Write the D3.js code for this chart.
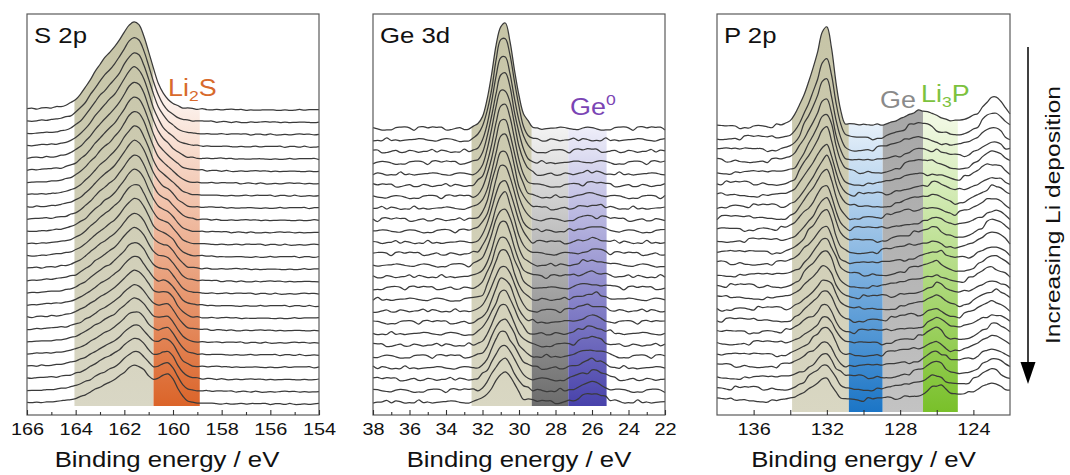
<!DOCTYPE html>
<html>
<head>
<meta charset="utf-8">
<script src="https://cdn.jsdelivr.net/npm/d3@7/dist/d3.min.js"></script>
<style>
  body { margin: 0; background: #fff; }
  text { font-family: "Liberation Sans", Arial, sans-serif; }
</style>
</head>
<body>
<svg id="chart" width="1070" height="475"></svg>
<script>
// ---- data (intensities in arbitrary units) ----
const nSpectra = 25;

// S 2p
const s2pRange = [166, 154];
const s2pTicks = [166, 164, 162, 160, 158, 156, 154];
const s2pMinorTicks = [165, 163, 161, 159, 157, 155];
const s2pBands = [[164.05, 160.8], [160.8, 158.9]];
const s2pPeaks = [
  { center: 161.45, sigma: 0.55 },  // S 2p3/2
  { center: 162.65, sigma: 0.7 },   // S 2p1/2
  { center: 160.2, sigma: 0.35 },   // Li2S
  { center: 162.5, sigma: 2.0 }     // inelastic background
];
const s2pMain = [72, 70, 68, 66, 64, 62, 60, 58, 56, 54, 52, 50, 48, 46, 44, 42, 40, 39, 37, 36, 35, 34, 33, 32, 31];
const s2pShoulder = [45, 40, 37, 35, 33, 31, 30, 28, 27, 26, 25, 24, 23, 22, 21, 20, 19, 18, 17, 17, 16, 15, 15, 14, 13];
const s2pLi2S = [2, 4, 6, 7, 8, 9, 10, 11, 12, 13, 14, 15, 16, 17, 18, 18, 19, 20, 21, 21, 22, 23, 23, 24, 25];
const s2pBackground = [5, 5, 5, 5, 5, 5, 5, 5, 5, 5, 5, 5, 5, 5, 5, 5, 5, 5, 5, 5, 5, 5, 5, 5, 5];
const s2pRipple = [0.3, 0.1, 0.5, 0.2, -0.4, -0.5, -0.1, 0.6, 0.4, -0.2, -0.3, 0.2, 0.5, 0.1, -0.6,
  -0.4, 0.4, 0.2, -0.3, -0.5, 0.2, 0.3, 0.1, 0.4, 0.6, -0.1, -0.4, -0.2, 0.3, -0.3];

// Ge 3d
const ge3dRange = [38, 22];
const ge3dTicks = [38, 36, 34, 32, 30, 28, 26, 24, 22];
const ge3dMinorTicks = [37, 35, 33, 31, 29, 27, 25, 23];
const ge3dBands = [[32.6, 29.3], [29.3, 27.3], [27.3, 25.2]];
const ge3dPeaks = [
  { center: 30.85, sigma: 0.56 },   // Ge 3d (sulfide)
  { center: 26.0, sigma: 0.6 }      // Ge0
];
const ge3dMain = [106, 102, 96, 91, 86, 82, 78, 74, 70, 67, 64, 61, 58, 55, 52, 49, 46, 44, 42, 40, 38, 36, 34, 32, 30];
const ge3dGe0 = [0, 0, 1, 1, 2, 2, 3, 3, 3, 4, 4, 4, 5, 5, 5, 6, 6, 6, 7, 7, 7, 8, 8, 8, 9];
const ge3dRipple = [0.8, 1.1, 1.4, 0.2, -1.2, -0.4, 0.3, 1.8, 0.4, -1.0, -1.8, -1.1, 0.6, 1.2, 0.9, -1.4,
  -0.6, 1.6, 0.9, 0.2, -1.5, -0.9, 1.1, -0.3, -1.1, 0.7, 2.0, 1.2, -0.9, -0.2, 1.3, -0.7,
  -1.6, -1.2, 0.1, 1.5, 0.0, -1.3, 0.4, 1.7, 0.6, -1.0, -0.1, 1.2, -0.8, -1.9, -0.3, 0.8];

// P 2p
const p2pRange = [138, 122];
const p2pTicks = [136, 132, 128, 124];
const p2pMinorTicks = [134, 130, 126];
const p2pBands = [[133.9, 130.8], [130.8, 128.95], [128.95, 126.75], [126.75, 124.85]];
const p2pPeaks = [
  { center: 131.98, sigma: 0.4 },   // P 2p3/2
  { center: 132.8, sigma: 0.55 },   // P 2p1/2
  { center: 127.0, sigma: 0.9 },    // Ge 3p
  { center: 126.0, sigma: 0.4 },    // Li3P
  { center: 122.9, sigma: 0.6 },    // feature at low BE
  { center: 123.0, sigma: 1.5 }     // background
];
const p2pMain = [86, 66, 58, 53, 49, 46, 43, 41, 39, 37, 35, 33, 31, 30, 28, 27, 25, 24, 23, 22, 21, 20, 19, 18, 18];
const p2pShoulder = [45, 36, 32, 30, 28, 26, 25, 24, 23, 22, 21, 20, 19, 18, 17, 16, 15, 14, 13, 13, 12, 12, 11, 11, 10];
const p2pGe = [16, 13, 12, 11, 10, 9, 9, 8, 8, 7, 7, 7, 6, 6, 6, 6, 5, 5, 5, 5, 5, 5, 5, 5, 5];
const p2pLi3P = [0, 0, 1, 2, 3, 4, 5, 5, 6, 6, 7, 7, 8, 8, 8, 9, 9, 9, 10, 10, 10, 11, 11, 11, 12];
const p2pLow = [20, 15, 13, 12, 12, 12, 11, 11, 11, 11, 11, 11, 10, 10, 10, 10, 10, 10, 10, 10, 10, 10, 10, 10, 10];
const p2pBackground = [9, 8, 8, 8, 8, 8, 8, 8, 8, 8, 8, 8, 8, 8, 8, 8, 8, 8, 8, 8, 8, 8, 8, 8, 8];
const p2pRipple = [1.2, 0.5, -1.8, -0.4, 2.1, 0.9, -0.9, -2.2, -1.3, 1.5, 0.6, -1.3, 0.2, 2.4, 1.0, 0.7,
  -1.9, -0.6, 1.1, 1.8, 0.4, -1.5, 0.5, 2.0, -0.2, -2.3, -1.0, 0.8, 1.6, 0.1, -1.2, -0.5,
  1.3, 2.2, 0.3, -1.6, -2.0, 0.7, 1.4, -0.8, 0.4, 1.9, 1.1, -1.4, -0.9, 1.0, 2.3, 0.2,
  -1.1, -1.7, 0.6, 1.5];

// ---- layout ----
const svg = d3.select('#chart');
const defs = svg.append('defs');
const frameTop = 14;
const frameBottom = 415;
const stretch = 1.17; // the figure's lettering is a little wide

const panels = [
  {
    id: 's2p', label: 'S 2p', x0: 27, x1: 319, range: s2pRange, stepE: 0.2,
    ticks: s2pTicks, minor: s2pMinorTicks, majorSize: 5, minorSize: 3,
    peaks: s2pPeaks, amps: [s2pMain, s2pShoulder, s2pLi2S, s2pBackground],
    ripple: s2pRipple, rippleStride: 7,
    base: 404, spacing: 12.25, bandBottom: 406, bands: s2pBands,
    bandColors: [['#c6c4a6', '#d9d7c5'], ['#fcf0ea', '#db6429']]
  },
  {
    id: 'ge3d', label: 'Ge 3d', x0: 373, x1: 665, range: ge3dRange, stepE: 0.25,
    ticks: ge3dTicks, minor: ge3dMinorTicks, majorSize: 5, minorSize: 3,
    peaks: ge3dPeaks, amps: [ge3dMain, ge3dGe0],
    ripple: ge3dRipple, rippleStride: 5,
    base: 402, spacing: 11.4, bandBottom: 406, bands: ge3dBands,
    bandColors: [['#c6c4a6', '#d9d7c3'], ['#f4f4f4', '#6c6c6c'], ['#f0f0fa', '#4842ab']]
  },
  {
    id: 'p2p', label: 'P 2p', x0: 717, x1: 1010, range: p2pRange, stepE: 0.25,
    ticks: p2pTicks, minor: p2pMinorTicks, majorSize: 5, minorSize: 5,
    peaks: p2pPeaks, amps: [p2pMain, p2pShoulder, p2pGe, p2pLi3P, p2pLow, p2pBackground],
    ripple: p2pRipple, rippleStride: 5,
    base: 400, spacing: 11.4, bandBottom: 412, bands: p2pBands,
    bandColors: [['#c6c4a6', '#d9d7c3'], ['#e8f1fa', '#1b75c6'], ['#a7a7a7', '#c3c3c3'], ['#f0f8e2', '#79c02a']]
  }
];

const gauss = (e, c, s) => Math.exp(-((e - c) ** 2) / (2 * s * s));

function buildSpectra(p) {
  const nPts = Math.round(Math.abs(p.range[0] - p.range[1]) / p.stepE) + 1;
  const grid = d3.range(nPts).map(j => p.range[0] - j * p.stepE);
  const n = p.ripple.length;
  return d3.range(nSpectra).map(i => grid.map((e, j) => {
    let v = (nSpectra - 1 - i) * p.spacing + p.ripple[(j * p.rippleStride + i * 11) % n];
    p.peaks.forEach((pk, k) => { v += p.amps[k][i] * gauss(e, pk.center, pk.sigma); });
    return { e, v };
  }));
}

panels.forEach(p => {
  const x = d3.scaleLinear().domain(p.range).range([p.x0, p.x1]);
  const y = d3.scaleLinear().domain([0, 400]).range([p.base, p.base - 400]);
  const spectra = buildSpectra(p);
  const g = svg.append('g').attr('class', `panel-${p.id}`);

  const line = d3.line()
    .x(d => x(d.e))
    .y(d => y(d.v))
    .curve(d3.curveCatmullRom.alpha(0.5));

  // shaded bands live under the topmost spectrum
  const area = d3.area()
    .x(d => x(d.e))
    .y0(p.bandBottom)
    .y1(d => y(d.v))
    .curve(d3.curveCatmullRom.alpha(0.5));
  defs.append('clipPath').attr('id', `clip-${p.id}`)
    .append('path').attr('d', area(spectra[0]));

  const bandTop = y((nSpectra - 1) * p.spacing) - 4;
  const bandG = g.append('g').attr('clip-path', `url(#clip-${p.id})`);
  p.bands.forEach((b, k) => {
    const gid = `grad-${p.id}-${k}`;
    const grad = defs.append('linearGradient').attr('id', gid)
      .attr('gradientUnits', 'userSpaceOnUse')
      .attr('x1', 0).attr('x2', 0)
      .attr('y1', k === 0 ? 20 : bandTop).attr('y2', p.bandBottom);
    grad.append('stop').attr('offset', 0).attr('stop-color', p.bandColors[k][0]);
    grad.append('stop').attr('offset', 1).attr('stop-color', p.bandColors[k][1]);
    bandG.append('rect')
      .attr('x', x(b[0]))
      .attr('width', x(b[1]) - x(b[0]))
      .attr('y', frameTop)
      .attr('height', p.bandBottom - frameTop)
      .attr('fill', `url(#${gid})`);
  });

  // stacked spectra
  g.append('g').selectAll('path.spectrum')
    .data(spectra)
    .enter()
    .append('path')
    .attr('class', 'spectrum')
    .attr('d', line)
    .attr('fill', 'none')
    .attr('stroke', '#3a3a3a')
    .attr('stroke-width', 1.25);

  // frame
  g.append('rect')
    .attr('x', p.x0).attr('y', frameTop)
    .attr('width', p.x1 - p.x0).attr('height', frameBottom - frameTop)
    .attr('fill', 'none').attr('stroke', '#5a5a5a').attr('stroke-width', 1.2);

  // axes, ticks pointing inward
  const major = d3.axisBottom(x).tickValues(p.ticks).tickSize(-p.majorSize).tickPadding(8).tickFormat(d3.format('d'));
  const minor = d3.axisBottom(x).tickValues(p.minor).tickSize(-p.minorSize).tickFormat('');
  [minor, major].forEach(ax => {
    const a = g.append('g').attr('transform', `translate(0,${frameBottom})`).call(ax);
    a.select('.domain').remove();
    a.selectAll('line').attr('stroke', '#333').attr('stroke-width', 1.1);
    a.attr('font-family', null).attr('font-size', null);
    a.selectAll('text')
      .attr('font-size', 17)
      .attr('fill', '#111')
      .attr('transform', `scale(${stretch},1)`);
  });

  g.append('text')
    .attr('transform', `translate(${(p.x0 + p.x1) / 2 - (p.id === 's2p' ? 6 : 0)},467) scale(${stretch},1)`)
    .attr('text-anchor', 'middle')
    .attr('font-size', 22)
    .attr('fill', '#111')
    .text('Binding energy / eV');

  g.append('text')
    .attr('transform', `translate(${p.x0 + 7},43) scale(${stretch},1)`)
    .attr('font-size', 22)
    .attr('fill', '#111')
    .text(p.label);
});

// component labels
function chem(xPos, yPos, color, parts) {
  const t = svg.append('text')
    .attr('transform', `translate(${xPos},${yPos}) scale(${stretch},1)`)
    .attr('font-size', 23)
    .attr('fill', color);
  parts.forEach(([s, kind]) => {
    const ts = t.append('tspan').text(s);
    if (kind === 'sub') ts.attr('font-size', 15).attr('dy', 5);
    else if (kind === 'sup') ts.attr('font-size', 15).attr('dy', -10);
    else if (kind === 'reset') ts.attr('dy', -5);
  });
}
chem(168, 96, '#d86a2c', [['Li'], ['2', 'sub'], ['S', 'reset']]);
chem(570, 115, '#7a44b4', [['Ge'], ['0', 'sup']]);
chem(880, 108, '#8a8a8a', [['Ge']]);
chem(921, 102, '#7cc23e', [['Li'], ['3', 'sub'], ['P', 'reset']]);

// deposition arrow
svg.append('line')
  .attr('x1', 1028).attr('x2', 1028)
  .attr('y1', 47).attr('y2', 366)
  .attr('stroke', '#000').attr('stroke-width', 1.5);
svg.append('path')
  .attr('d', 'M1020.5,362 L1035.5,362 L1028,384 Z')
  .attr('fill', '#000');
svg.append('text')
  .attr('transform', 'translate(1060,215) rotate(-90)')
  .attr('text-anchor', 'middle')
  .attr('font-size', 21)
  .attr('textLength', 258)
  .attr('lengthAdjust', 'spacingAndGlyphs')
  .attr('fill', '#111')
  .text('Increasing Li deposition');
</script>
</body>
</html>
